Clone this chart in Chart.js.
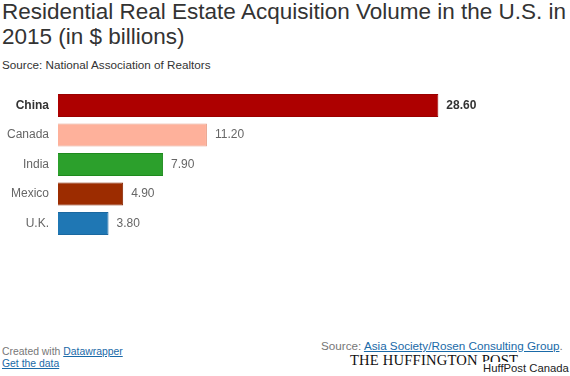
<!DOCTYPE html>
<html><head><meta charset="utf-8">
<script src="https://cdn.jsdelivr.net/npm/chart.js@4/dist/chart.umd.min.js"></script>
<style>
html,body{margin:0;padding:0;background:#fff;width:570px;height:376px;overflow:hidden;font-family:"Liberation Sans",Arial,sans-serif;}
#title{position:absolute;left:2px;top:-1px;font-size:22.5px;line-height:25px;color:#333;width:568px;white-space:nowrap;}
#sub{position:absolute;left:2px;top:58px;font-size:11.7px;color:#333;}
#wrap{position:absolute;left:0;top:0;}
.f{position:absolute;font-size:10.4px;color:#777;white-space:nowrap;}
a{color:#1a6aa8;text-decoration:underline;}
#src{font-size:11.7px;}
#hp{position:absolute;left:350px;top:352px;font-family:"Liberation Serif","DejaVu Serif",serif;font-size:14.6px;color:#111;letter-spacing:0.2px;white-space:nowrap;}
#hpc{position:absolute;left:482px;top:362px;font-size:11.3px;color:#222;background:#fff;padding-left:1px;white-space:nowrap;}
</style></head>
<body>
<div id="title">Residential Real Estate Acquisition Volume in the U.S. in<br>2015 (in $ billions)</div>
<div id="sub">Source: National Association of Realtors</div>
<div id="wrap"><canvas id="c" width="570" height="330"></canvas></div>
<div class="f" style="left:2px;top:346px;">Created with <a>Datawrapper</a></div>
<div class="f" style="left:2px;top:358px;"><a>Get the data</a></div>
<div class="f" id="src" style="left:321px;top:339px;">Source: <a>Asia Society/Rosen Consulting Group</a>.</div>
<div id="hp">THE HUFFINGTON POST</div>
<div id="hpc">HuffPost Canada</div>
<script>
const categories = ["China","Canada","India","Mexico","U.K."];
const values = [28.6, 11.2, 7.9, 4.9, 3.8];
const valueLabels = ["28.60","11.20","7.90","4.90","3.80"];
const barColors = ["#ad0000","#feb19b","#2ca02c","#9c2c00","#1f77b4"];
const borderColors = ["#9a0000","#e8a08a","#1e8a1e","#862400","#1a68a0"];

const labelPlugin = {
  id:'vals',
  afterDatasetsDraw(chart){
    const ctx = chart.ctx;
    const meta = chart.getDatasetMeta(0);
    ctx.save();
    ctx.textBaseline='middle';
    ctx.textAlign='left';
    meta.data.forEach((bar,i)=>{
      ctx.font = (i===0?'bold ':'') + '12px "Liberation Sans", Arial, sans-serif';
      ctx.fillStyle = i===0 ? '#333' : '#666';
      ctx.fillText(valueLabels[i], bar.x + 8, bar.y);
    });
    ctx.restore();
  }
};

new Chart(document.getElementById('c'), {
  type:'bar',
  data:{labels:categories, datasets:[{data:values, backgroundColor:barColors, borderColor:borderColors, borderWidth:1, barPercentage:0.95, categoryPercentage:0.82}]},
  options:{
    indexAxis:'y', responsive:false, animation:false,
    layout:{padding:{top:90.75, bottom:91.75, left:0, right:0}},
    plugins:{legend:{display:false}, tooltip:{enabled:false}},
    scales:{
      x:{display:false, min:0, max:38.5},
      y:{
        grid:{display:false, drawTicks:false}, border:{display:false},
        afterFit(s){ s.width = 58; },
        ticks:{
          padding:9,
          color:(c)=> c.index===0 ? '#333' : '#666',
          font:(c)=> ({family:'"Liberation Sans", Arial, sans-serif', size:12, weight: c.index===0?'bold':'normal'})
        }
      }
    }
  },
  plugins:[labelPlugin]
});
</script>
</body></html>
